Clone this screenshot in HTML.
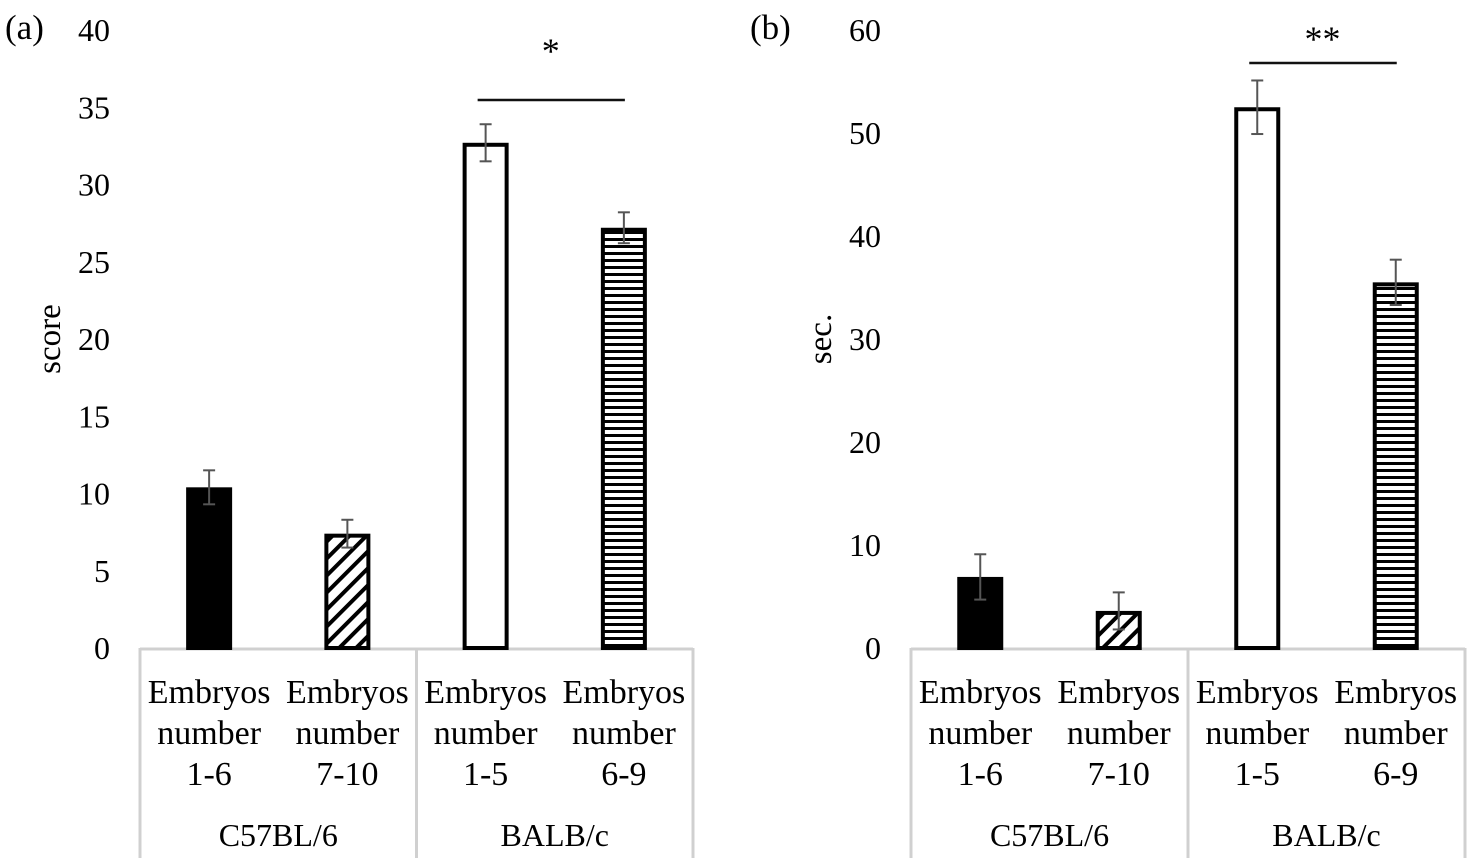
<!DOCTYPE html>
<html><head><meta charset="utf-8"><style>
html,body{margin:0;padding:0;background:#fff;}
svg{display:block;font-family:"Liberation Serif",serif;}
</style></head><body>
<svg id="c" width="1469" height="858" xmlns="http://www.w3.org/2000/svg">
<defs>
<pattern id="diag" patternUnits="userSpaceOnUse" width="12" height="12" patternTransform="rotate(45)">
<rect width="12" height="12" fill="#fff"/><rect x="0" y="0" width="4" height="12" fill="#000"/></pattern>
<pattern id="horiz" patternUnits="userSpaceOnUse" width="10" height="7">
<rect width="10" height="7" fill="#fff"/><rect x="0" y="0" width="10" height="3" fill="#000"/></pattern>
</defs>
</svg>
<script>
const categories=["Embryos|number|1-6","Embryos|number|7-10","Embryos|number|1-5","Embryos|number|6-9"];
const groups=["C57BL/6","BALB/c"];
const scoreValues=[10.4,7.4,32.7,27.2];
const scoreErrors=[1.1,0.9,1.2,1.0];
const scoreTicks=[0,5,10,15,20,25,30,35,40];
const secValues=[6.9,3.6,52.5,35.5];
const secErrors=[2.2,1.8,2.6,2.2];
const secTicks=[0,10,20,30,40,50,60];
const fills=["#000","url(#diag)","#fff","url(#horiz)"];
const svg=document.getElementById('c');
const NS='http://www.w3.org/2000/svg';
function mk(tag,attrs,parent){const e=document.createElementNS(NS,tag);for(const k in attrs)e.setAttribute(k,attrs[k]);(parent||svg).appendChild(e);return e;}
function panel(p){
  const g=mk('g',{});
  
  
  const y0=648,yTop=30,max=p.ticks[p.ticks.length-1];
  const y=v=>y0-(v/max)*(y0-yTop);
  const x=i=>p.left+(i+0.5)*p.step;
  const lab=mk('text',{x:p.labelX,y:39,'font-size':35},g);lab.textContent=p.letter;
  
  
  p.ticks.forEach(t=>{const e=mk('text',{x:p.left-30,y:y(t)+11,'font-size':32,'text-anchor':'end'},g);e.textContent=t;
    
    });
  const yt=mk('text',{transform:`translate(${p.left-80},${y(p.ticks[p.ticks.length-1]/2)}) rotate(-90)`,'font-size':33,'text-anchor':'middle'},g);yt.textContent=p.ytitle;
  
  
  const right=p.left+4*p.step;
  const ax=mk('line',{x1:p.left,x2:right,y1:y0+1,y2:y0+1,stroke:'#d0d0d0','stroke-width':3},g);
  
  
  [0,2,4].forEach(k=>{const l=mk('line',{x1:p.left+k*p.step,x2:p.left+k*p.step,y1:y0,y2:858,stroke:'#d0d0d0','stroke-width':3},g);
    
    });
  p.values.forEach((v,i)=>{
    const cx=x(i);
    const b=mk('rect',{x:cx-21,y:y(v)+2,width:42,height:y0-y(v)-2,fill:fills[i],stroke:'#000','stroke-width':4},g);
    
    
    const e=p.errors[i],eg=mk('g',{stroke:'#555','stroke-width':2},g);
    
    
    mk('line',{x1:cx,x2:cx,y1:y(v+e),y2:y(v-e)},eg);
    mk('line',{x1:cx-6,x2:cx+6,y1:y(v+e),y2:y(v+e)},eg);
    mk('line',{x1:cx-6,x2:cx+6,y1:y(v-e),y2:y(v-e)},eg);
    categories[i].split('|').forEach((s,j)=>{const t=mk('text',{x:cx,y:703+j*41,'font-size':34,'text-anchor':'middle'},g);t.textContent=s;
      
      });
  });
  groups.forEach((s,k)=>{const t=mk('text',{x:p.left+(2*k+1)*p.step,y:846,'font-size':32,'text-anchor':'middle'},g);t.textContent=s;
    
    });
  const sl=mk('line',{x1:x(2)-8,x2:x(3)+1,y1:p.sigY,y2:p.sigY,stroke:'#111','stroke-width':2.5},g);
  
  
  const st=mk('text',{x:(x(2)+x(3))/2-4,y:p.starY,'font-size':36,'text-anchor':'middle'},g);st.textContent=p.sig;
  
  
}
panel({name:'panel-a-score',letter:'(a)',labelX:5,left:140,step:138.25,ticks:scoreTicks,values:scoreValues,errors:scoreErrors,ytitle:'score',sig:'*',sigY:100,starY:63});
panel({name:'panel-b-sec',letter:'(b)',labelX:750,left:911,step:138.5,ticks:secTicks,values:secValues,errors:secErrors,ytitle:'sec.',sig:'**',sigY:63,starY:51});
</script>
</body></html>
